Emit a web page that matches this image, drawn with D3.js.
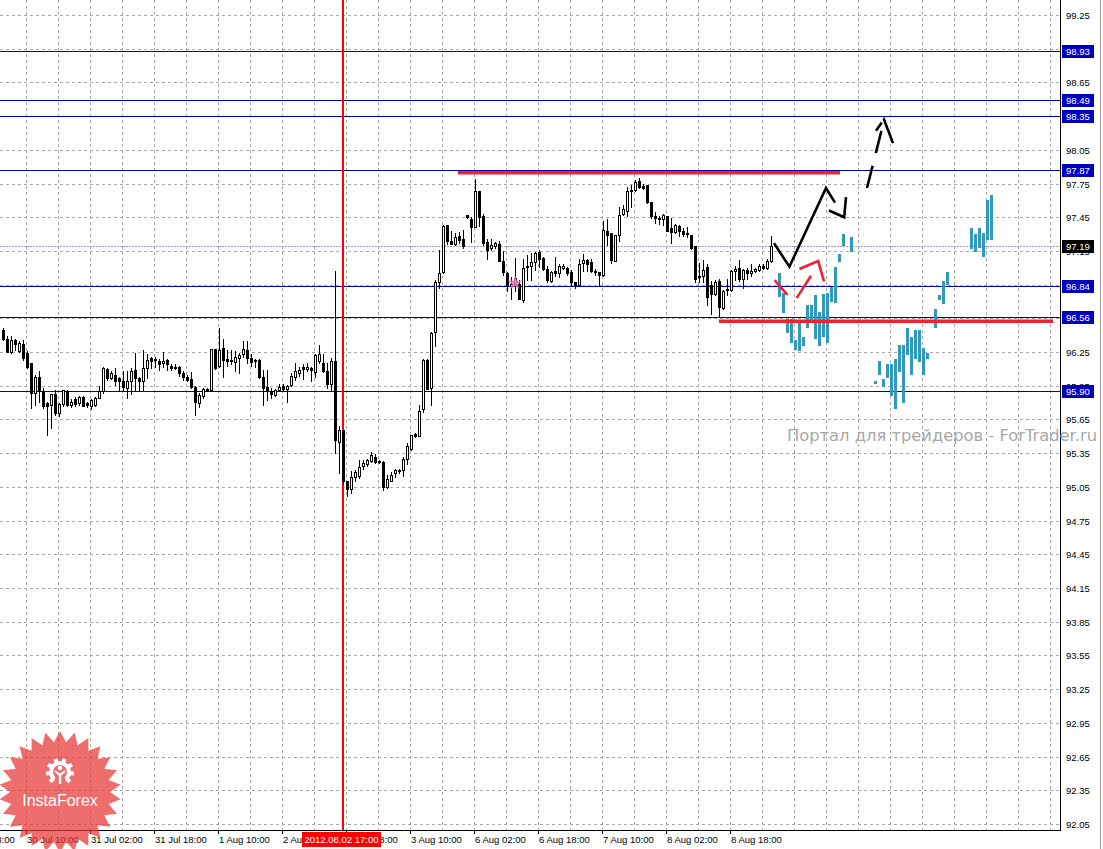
<!DOCTYPE html>
<html><head><meta charset="utf-8">
<script src="https://cdn.jsdelivr.net/npm/d3@7"></script>
<style>body{margin:0;background:#fff}svg{display:block}</style>
</head><body>
<svg id="c" width="1103" height="849"></svg>
<script>
// ---------- DATA ----------
const barOpen=[96.45,96.37,96.25,96.36,96.26,96.32,96.24,96.15,95.89,96.03,
95.90,95.80,95.78,95.88,95.71,95.79,95.90,95.78,95.83,95.80,
95.85,95.80,95.77,95.78,95.84,95.90,96.10,96.02,96.05,96.02,
95.99,95.93,95.99,96.09,96.02,95.99,96.11,96.20,96.18,96.17,
96.15,96.18,96.13,96.12,96.12,96.06,96.03,96.01,95.94,95.80,
95.86,95.91,95.91,96.28,96.13,96.29,96.19,96.18,96.16,96.20,
96.23,96.27,96.20,96.18,96.18,96.03,95.94,95.90,95.87,95.91,
95.95,95.92,95.96,96.03,96.06,96.12,96.10,96.11,96.07,96.17,
96.15,96.08,95.97,96.17,95.45,95.56,95.10,95.03,95.14,95.15,
95.24,95.25,95.28,95.32,95.28,95.27,95.05,95.10,95.17,95.20,
95.20,95.30,95.39,95.52,95.50,95.74,96.18,95.93,96.43,96.87,
96.96,97.38,97.24,97.21,97.28,97.26,97.47,97.43,97.36,97.68,
97.46,97.23,97.18,97.19,97.21,97.06,96.95,96.84,96.85,96.86,
96.71,97.01,97.02,97.05,97.14,97.09,96.99,96.88,96.97,96.95,
97.00,97.00,96.96,96.87,96.85,97.04,97.07,97.05,96.97,96.96,
96.94,97.33,97.31,97.06,97.29,97.48,97.51,97.68,97.69,97.77,
97.73,97.74,97.59,97.46,97.44,97.43,97.46,97.35,97.32,97.37,
97.33,97.31,97.29,97.19,96.93,96.93,97.01,96.85,96.77,96.88,
96.64,96.80,96.80,96.97,97.00,96.90,96.98,96.95,96.97,96.98,
97.02,97.00,97.06];
const barHigh=[96.46,96.39,96.39,96.37,96.35,96.36,96.26,96.15,96.05,96.08,
95.93,95.81,95.88,95.91,95.80,95.91,95.91,95.83,95.85,95.86,
95.86,95.81,95.83,95.85,95.95,96.12,96.11,96.08,96.11,96.03,
96.08,96.08,96.11,96.24,96.03,96.27,96.23,96.21,96.21,96.19,
96.25,96.19,96.14,96.14,96.13,96.08,96.05,96.07,95.95,95.89,
95.93,95.93,96.28,96.28,96.46,96.37,96.27,96.27,96.26,96.24,
96.35,96.35,96.23,96.19,96.19,96.09,96.09,95.93,95.92,95.97,
95.97,95.96,96.06,96.15,96.12,96.14,96.15,96.12,96.23,96.31,
96.23,96.15,96.20,96.97,95.59,95.56,95.10,95.19,95.20,95.29,
95.29,95.30,95.36,95.34,95.29,95.28,95.16,95.18,95.21,95.21,
95.32,95.44,95.51,95.53,95.78,96.19,96.19,96.43,96.89,97.16,
97.38,97.38,97.33,97.31,97.32,97.34,97.47,97.45,97.79,97.68,
97.48,97.26,97.26,97.23,97.24,97.15,96.96,96.92,97.09,96.89,
97.08,97.11,97.13,97.14,97.16,97.10,97.02,96.97,97.10,97.03,
97.03,97.01,96.98,96.87,97.08,97.12,97.08,97.08,96.99,96.96,
97.42,97.43,97.31,97.29,97.54,97.56,97.72,97.74,97.78,97.80,
97.75,97.74,97.59,97.50,97.46,97.48,97.46,97.44,97.39,97.38,
97.35,97.36,97.29,97.19,97.04,97.07,97.03,96.88,96.89,96.90,
96.80,96.90,96.98,97.02,97.07,96.99,97.00,97.03,97.00,97.03,
97.03,97.08,97.28];
const barLow=[96.36,96.25,96.24,96.27,96.25,96.18,96.11,95.75,95.78,95.81,
95.75,95.51,95.57,95.69,95.68,95.77,95.77,95.76,95.77,95.78,
95.77,95.76,95.74,95.77,95.84,95.89,96.00,96.01,95.96,95.90,
95.90,95.84,95.88,95.91,95.90,95.91,96.02,96.11,96.12,96.09,
96.12,96.09,96.09,96.10,96.04,96.00,95.99,95.93,95.69,95.76,
95.84,95.90,95.90,96.10,96.12,96.03,96.13,96.14,96.08,96.06,
96.21,96.15,96.13,96.12,96.02,95.78,95.82,95.84,95.86,95.90,
95.90,95.81,95.95,96.00,96.04,96.01,96.08,95.99,96.03,96.15,
96.07,95.93,95.91,95.35,95.17,95.08,94.97,95.00,95.10,95.13,
95.21,95.24,95.27,95.26,95.26,95.02,95.04,95.10,95.14,95.17,
95.15,95.25,95.38,95.49,95.50,95.72,95.92,95.78,96.30,96.82,
96.95,97.21,97.21,97.20,97.22,97.18,97.44,97.23,97.36,97.37,
97.20,97.08,97.16,97.18,97.06,96.94,96.79,96.72,96.79,96.72,
96.70,96.89,96.89,96.98,97.01,96.98,96.87,96.87,96.93,96.92,
96.99,96.94,96.84,96.82,96.84,96.97,96.97,96.96,96.94,96.85,
96.93,97.20,97.04,97.06,97.24,97.47,97.46,97.54,97.68,97.71,
97.70,97.58,97.44,97.40,97.39,97.38,97.33,97.22,97.31,97.28,
97.28,97.27,97.17,96.87,96.87,96.87,96.67,96.59,96.76,96.57,
96.63,96.76,96.79,96.89,96.88,96.82,96.90,96.93,96.96,96.97,
96.99,96.99,97.05];
const barClose=[96.37,96.25,96.36,96.32,96.33,96.20,96.12,95.89,96.03,95.90,
95.77,95.77,95.88,95.71,95.79,95.91,95.78,95.81,95.79,95.85,
95.77,95.78,95.82,95.84,95.90,96.11,96.02,96.06,95.99,95.99,
95.94,95.99,96.08,96.02,95.99,96.11,96.18,96.17,96.19,96.14,
96.17,96.14,96.11,96.11,96.06,96.03,96.00,95.94,95.81,95.87,
95.92,95.92,96.28,96.11,96.27,96.18,96.17,96.17,96.21,96.22,
96.28,96.20,96.16,96.17,96.03,95.93,95.91,95.88,95.91,95.94,
95.92,95.95,96.04,96.08,96.09,96.10,96.12,96.09,96.22,96.23,
96.08,95.97,96.17,95.47,95.56,95.10,95.03,95.14,95.18,95.23,
95.26,95.29,95.33,95.27,95.27,95.05,95.12,95.16,95.20,95.19,
95.30,95.41,95.51,95.50,95.73,96.18,95.92,96.42,96.87,96.95,
97.37,97.24,97.21,97.27,97.25,97.19,97.45,97.36,97.68,97.45,
97.22,97.16,97.20,97.22,97.06,96.96,96.85,96.86,96.91,96.72,
97.00,97.02,97.05,97.13,97.08,96.99,96.89,96.96,96.95,97.02,
97.02,96.95,96.87,96.85,97.03,97.07,97.03,96.97,96.96,96.94,
97.34,97.29,97.07,97.29,97.47,97.52,97.68,97.69,97.76,97.72,
97.71,97.59,97.46,97.44,97.43,97.47,97.33,97.32,97.38,97.33,
97.30,97.30,97.18,96.90,96.92,96.98,96.74,96.77,96.87,96.65,
96.79,96.81,96.97,96.99,96.90,96.98,96.95,96.97,96.99,97.02,
97.00,97.06,97.19];

// forecast (teal) bars: bar index, high, low
const fcIndex=[194,195,196,197,198,199,200,201,202,203,204,205,206,207,208,209,210,212,
218,219,220,221,222,223,224,225,226,227,228,229,230,231,233,234,235,236,242,243,244,245,246,247];
const fcHigh=[96.95,96.78,96.54,96.54,96.36,96.51,96.38,96.67,96.67,96.76,96.61,96.77,96.78,96.83,97.01,97.12,97.30,97.27,
95.99,96.17,96.01,96.14,96.14,96.19,96.31,96.31,96.46,96.38,96.45,96.45,96.29,96.24,96.63,96.76,96.88,96.96,97.35,97.30,97.35,97.31,97.60,97.65];
const fcLow=[96.74,96.60,96.42,96.33,96.27,96.26,96.30,96.46,96.51,96.37,96.30,96.38,96.33,96.70,96.69,97.05,97.19,97.14,
95.97,96.05,95.94,96.02,95.86,95.74,96.07,95.80,96.22,96.05,96.19,96.16,96.05,96.19,96.46,96.71,96.68,96.85,97.17,97.14,97.18,97.10,97.25,97.25];

// price axis ticks
const priceTicks=[92.05,92.35,92.65,92.95,93.25,93.55,93.85,94.15,94.45,94.75,95.05,95.35,95.65,95.95,96.25,96.55,96.85,97.15,97.45,97.75,98.05,98.35,98.65,98.95,99.25];
// horizontal levels
const levelPrices=[98.93,98.49,98.35,97.87,96.84,96.56,95.90];
const currentPrice=97.19;
// time axis
const timeTickIndex=[-10,6,22,38,54,70,86,102,118,134,150,166,182];
const timeTickLabels=["27 Jul 18:00","30 Jul 10:00","31 Jul 02:00","31 Jul 18:00","1 Aug 10:00","2 Aug 02:00","2 Aug 18:00","3 Aug 10:00","6 Aug 02:00","6 Aug 18:00","7 Aug 10:00","8 Aug 02:00","8 Aug 18:00"];
const markerIndex=85, markerLabel="2012.08.02 17:00";
// drawn resistance/support segments [startIdx, endIdx, price]
const redLevels=[[113.75,209.25,97.845],[179,262.5,96.524]];
// arrows (bar index, price)
const blackPath1=[[192.75,97.22],[196.6,97.01],[205.75,97.71],[208,97.58]];
const blackPath2=[[206.5,97.51],[210.3,97.45],[210.75,97.63]];
const dashedShaft=[[216,97.71],[219.75,98.24]];
const dashedHead=[[218.25,98.22],[220.25,98.32],[222.5,98.11]];
const redPath1=[[192.9,96.89],[196.1,96.76]];
const redPath2=[[198.4,96.73],[202,96.93]];
const redPath3=[[199.1,96.99],[203.8,97.06],[205.25,96.88]];
const starMark=[128,96.865];
const watermark="Портал для трейдеров - ForTrader.ru";

// ---------- SCALES ----------
const W=1103,H=849,PR=1060,PB=830;
const x=d3.scaleLinear().domain([0,1]).range([3,7]);
const y=d3.scaleLinear().domain([92.05,99.25]).range([824,15]);
const px=v=>Math.round(x(v));
const py=v=>Math.round(y(v));

const svg=d3.select('#c');
svg.append('rect').attr('width',W).attr('height',H).attr('fill','#fff');
svg.append('defs').append('clipPath').attr('id','clip').append('rect').attr('width',PR).attr('height',PB);
const plot=svg.append('g').attr('clip-path','url(#clip)');

// grid
plot.selectAll('.hg').data(priceTicks).join('line')
 .attr('x1',0).attr('x2',PR).attr('y1',d=>py(d)+0.5).attr('y2',d=>py(d)+0.5)
 .attr('stroke','#a8a8a8').attr('stroke-dasharray','3,3');
const gridIdx=d3.range(-2,264,8);
plot.selectAll('.vg').data(gridIdx).join('line')
 .attr('x1',d=>px(d)-0.5).attr('x2',d=>px(d)-0.5).attr('y1',0).attr('y2',PB)
 .attr('stroke','#a8a8a8').attr('stroke-dasharray','3,3');

// current price dotted line
plot.append('line').attr('x1',0).attr('x2',PR).attr('y1',py(currentPrice)+0.5).attr('y2',py(currentPrice)+0.5)
 .attr('stroke','#a898c0').attr('stroke-dasharray','2,1');
// levels
plot.selectAll('.lv').data(levelPrices).join('line')
 .attr('x1',0).attr('x2',PR).attr('y1',d=>py(d)+0.5).attr('y2',d=>py(d)+0.5)
 .attr('stroke','#0000b0').attr('stroke-width',1);
// marker vertical
plot.append('rect').attr('x',px(markerIndex)-1).attr('y',0).attr('width',2).attr('height',PB)
 .attr('fill','#ff0000');

// candles
const bars=barOpen.map((o,i)=>({i,o,h:barHigh[i],l:barLow[i],c:barClose[i]}));
const cg=plot.append('g');
bars.forEach(b=>{
  const cx=px(b.i);
  const hi=Math.max(b.h,b.o,b.c), lo=Math.min(b.l,b.o,b.c);
  cg.append('rect').attr('x',cx).attr('y',py(hi)).attr('width',1).attr('height',Math.max(1,py(lo)-py(hi)+1)).attr('fill','#000');
  const top=py(Math.max(b.o,b.c)), bot=py(Math.min(b.o,b.c));
  const hgt=Math.max(1,bot-top+1);
  cg.append('rect').attr('x',cx-1).attr('y',top).attr('width',3).attr('height',hgt).attr('fill','#000');
  if(b.c>b.o && hgt>2){
    cg.append('rect').attr('x',cx).attr('y',top+1).attr('width',1).attr('height',hgt-2).attr('fill','#fff');
  }
});
// pink star marker
plot.append('path').attr('d',d3.symbol(d3.symbolStar,70)()).attr('transform',`translate(${x(starMark[0])},${y(starMark[1])})`)
 .attr('fill','#e87ab8').attr('opacity',0.85);

// forecast bars
plot.selectAll('.fc').data(fcIndex).join('rect')
 .attr('x',d=>px(d)-1).attr('width',3)
 .attr('y',(d,k)=>py(fcHigh[k])).attr('height',(d,k)=>Math.max(2,py(fcLow[k])-py(fcHigh[k])))
 .attr('fill','#3399bb');

// red thick segments
plot.selectAll('.rl').data(redLevels).join('line')
 .attr('x1',d=>x(d[0])).attr('x2',d=>x(d[1])).attr('y1',d=>y(d[2])).attr('y2',d=>y(d[2]))
 .attr('stroke','#ee2233').attr('stroke-width',3.5);

const ln=d3.line().x(d=>x(d[0])).y(d=>y(d[1]));
[blackPath1,blackPath2].forEach(p=>plot.append('path').attr('d',ln(p)).attr('fill','none').attr('stroke','#000').attr('stroke-width',2.6).attr('stroke-linejoin','miter'));
plot.append('path').attr('d',ln(dashedShaft)).attr('fill','none').attr('stroke','#000').attr('stroke-width',2.6).attr('stroke-dasharray','23,13');
plot.append('path').attr('d',ln(dashedHead)).attr('fill','none').attr('stroke','#000').attr('stroke-width',2.6).attr('stroke-dasharray','10,3,30');
[redPath1,redPath2,redPath3].forEach(p=>plot.append('path').attr('d',ln(p)).attr('fill','none').attr('stroke','#ee2233').attr('stroke-width',2.6));

// frame
svg.append('line').attr('x1',PR+0.5).attr('x2',PR+0.5).attr('y1',0).attr('y2',PB+1).attr('stroke','#000');
svg.append('line').attr('x1',0).attr('x2',PR+1).attr('y1',PB+0.5).attr('y2',PB+0.5).attr('stroke','#000');
svg.append('line').attr('x1',1100.5).attr('x2',1100.5).attr('y1',0).attr('y2',H).attr('stroke','#a09890');

const FONT="'Liberation Sans', Arial, sans-serif";
// price labels
svg.selectAll('.pl').data(priceTicks).join('text')
 .attr('x',1066).attr('y',d=>py(d)+3.5).text(d=>d.toFixed(2))
 .attr('font-family',FONT).attr('font-size',9.5).attr('fill','#000');
// level boxes
const lb=svg.selectAll('.lb').data(levelPrices).join('g').attr('transform',d=>`translate(1062,${py(d)-6})`);
lb.append('rect').attr('width',32).attr('height',13).attr('fill','#0000c0');
lb.append('text').attr('x',4).attr('y',10).text(d=>d.toFixed(2)).attr('font-family',FONT).attr('font-size',9.5).attr('fill','#fff');
const cb=svg.append('g').attr('transform',`translate(1062,${py(currentPrice)-6})`);
cb.append('rect').attr('width',32).attr('height',13).attr('fill','#000');
cb.append('text').attr('x',4).attr('y',10).text(currentPrice.toFixed(2)).attr('font-family',FONT).attr('font-size',9.5).attr('fill','#fff');

// time labels
svg.selectAll('.tt').data(timeTickIndex).join('line')
 .attr('x1',d=>px(d)-0.5).attr('x2',d=>px(d)-0.5).attr('y1',PB).attr('y2',PB+4).attr('stroke','#000');
svg.selectAll('.tl').data(timeTickIndex).join('text')
 .attr('x',d=>px(d)).attr('y',843).text((d,k)=>timeTickLabels[k])
 .attr('font-family',FONT).attr('font-size',9.5).attr('fill','#000');
const mx=px(markerIndex);
svg.append('rect').attr('x',mx-41).attr('y',832).attr('width',79).attr('height',15).attr('fill','#ff0000');
svg.append('text').attr('x',mx-1.5).attr('y',843).attr('text-anchor','middle').text(markerLabel)
 .attr('font-family',FONT).attr('font-size',9.5).attr('fill','#fff');

// watermark
svg.append('text').attr('x',787).attr('y',441).text(watermark)
 .attr('font-family',"'DejaVu Sans',Verdana,sans-serif").attr('font-size',15)
 .attr('textLength',310).attr('lengthAdjust','spacingAndGlyphs').attr('fill','#a8a8a8');

// InstaForex logo
const logo=svg.append('g').attr('transform','translate(60,792)');
const N=26, R1=61, R2=50;
const pts=d3.range(2*N).map(k=>{const a=-Math.PI/2+k*Math.PI/N;const r=k%2?R2:R1;return [r*Math.cos(a),r*Math.sin(a)];});
logo.append('polygon').attr('points',pts.map(p=>p.join(',')).join(' ')).attr('fill','#e83434').attr('opacity',0.72);
const ic=logo.append('g').attr('transform','translate(0,-20)');
ic.append('path').attr('d',d3.arc().innerRadius(7).outerRadius(11).startAngle(Math.PI*1.22).endAngle(Math.PI*2.78)()).attr('fill','#fff');
d3.range(8).forEach(k=>{const a=225+k*270/7; ic.append('rect').attr('x',-2).attr('y',-14).attr('width',4).attr('height',5).attr('fill','#fff').attr('transform',`rotate(${a})`);});
ic.append('circle').attr('cx',0).attr('cy',-4).attr('r',2.3).attr('fill','#fff');
ic.append('path').attr('d','M-5,-1 L0,3 L5,-1').attr('stroke','#fff').attr('stroke-width',2.2).attr('fill','none');
ic.append('rect').attr('x',-1.2).attr('y',2).attr('width',2.4).attr('height',10).attr('fill','#fff');
logo.append('text').attr('x',0).attr('y',14).attr('text-anchor','middle').text('InstaForex')
 .attr('font-family',FONT).attr('font-size',16).attr('fill','#fff');
</script>
</body></html>
